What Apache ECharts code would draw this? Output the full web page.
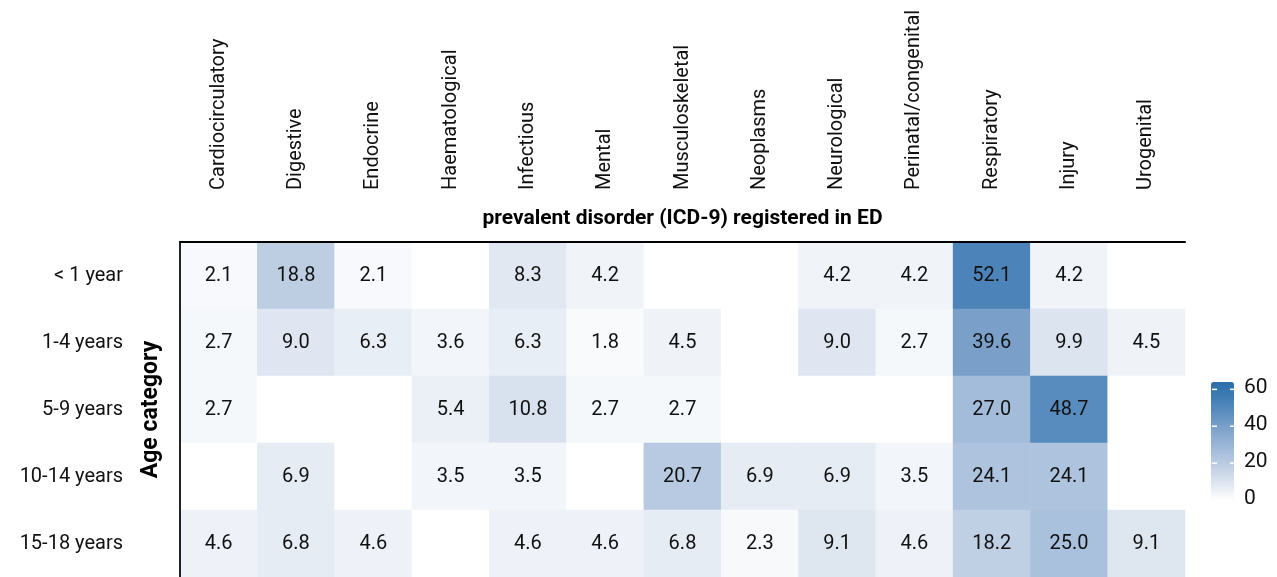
<!DOCTYPE html>
<html>
<head>
<meta charset="utf-8">
<title>Prevalent disorder by age category</title>
<script src="https://cdn.jsdelivr.net/npm/echarts@6/dist/echarts.min.js"></script>
<style>
    html, body { margin: 0; padding: 0; background: #fff; }
    #main { width: 1277px; height: 577px; }
</style>
</head>
<body>
<div id="main"></div>
<script>
    // categories
    var disorders = ['Cardiocirculatory', 'Digestive', 'Endocrine', 'Haematological', 'Infectious', 'Mental',
        'Musculoskeletal', 'Neoplasms', 'Neurological', 'Perinatal/congenital', 'Respiratory', 'Injury', 'Urogenital'];
    var ages = ['< 1 year', '1-4 years', '5-9 years', '10-14 years', '15-18 years'];

    // percentages per age row (0 = empty cell)
    var rowUnder1 = [2.1, 18.8, 2.1, 0, 8.3, 4.2, 0, 0, 4.2, 4.2, 52.1, 4.2, 0];
    var row1to4 = [2.7, 9.0, 6.3, 3.6, 6.3, 1.8, 4.5, 0, 9.0, 2.7, 39.6, 9.9, 4.5];
    var row5to9 = [2.7, 0, 0, 5.4, 10.8, 2.7, 2.7, 0, 0, 0, 27.0, 48.7, 0];
    var row10to14 = [0, 6.9, 0, 3.5, 3.5, 0, 20.7, 6.9, 6.9, 3.5, 24.1, 24.1, 0];
    var row15to18 = [4.6, 6.8, 4.6, 0, 4.6, 4.6, 6.8, 2.3, 9.1, 4.6, 18.2, 25.0, 9.1];

    var legendTicks = [60, 40, 20, 0];

    var rows = [rowUnder1, row1to4, row5to9, row10to14, row15to18];
    var cells = [];
    rows.forEach(function (row, yi) {
        row.forEach(function (v, xi) {
            cells.push([xi, yi, v]);
        });
    });

    var font = "Roboto, 'Liberation Sans', sans-serif";

    // colour bar placement (visualMap adds its own offset of ~16/15 px)
    var barLeft = 1212, barTop = 382, barW = 23, barH = 118, vMax = 64;
    var legendGraphics = [];
    legendTicks.forEach(function (t) {
        var y = barTop + barH * (1 - t / vMax);
        legendGraphics.push({
            type: 'text', left: barLeft + barW + 9, top: y - 12,
            style: { text: String(t), font: '21px ' + font, fill: '#111' }
        });
        if (t > 0) {
            legendGraphics.push({ type: 'line', shape: { x1: barLeft, y1: y, x2: barLeft + 5, y2: y },
                style: { stroke: '#fff', lineWidth: 1.5 }, z: 100 });
            legendGraphics.push({ type: 'line', shape: { x1: barLeft + barW - 5, y1: y, x2: barLeft + barW, y2: y },
                style: { stroke: '#fff', lineWidth: 1.5 }, z: 100 });
        }
    });

    var myChart = echarts.init(document.getElementById('main'));
    var option = {
        animation: false,
        backgroundColor: '#fff',
        textStyle: { fontFamily: font },
        grid: { left: 180, top: 242, right: 92, height: 340 },
        xAxis: {
            type: 'category',
            position: 'top',
            z: 5,
            data: disorders,
            name: 'prevalent disorder (ICD-9) registered in ED',
            nameLocation: 'middle',
            nameGap: 13,
            nameMoveOverlap: false,
            nameTextStyle: { fontSize: 21, fontWeight: 'bold', color: '#000', fontFamily: font },
            axisLine: { show: true, lineStyle: { color: '#000', width: 2 } },
            axisTick: { show: false },
            axisLabel: { rotate: -90, margin: 52, fontSize: 20, color: '#111', interval: 0 },
            splitLine: { show: false },
            splitArea: { show: false }
        },
        yAxis: {
            type: 'category',
            inverse: true,
            z: 5,
            data: ages,
            name: 'Age category',
            nameLocation: 'middle',
            nameGap: 17,
            nameRotate: 90,
            nameMoveOverlap: false,
            nameTextStyle: { fontSize: 23, fontWeight: 'bold', color: '#000', fontFamily: font },
            axisLine: { show: true, lineStyle: { color: '#222', width: 2 } },
            axisTick: { show: false },
            axisLabel: { margin: 57, fontSize: 20, color: '#111' },
            splitLine: { show: false }
        },
        visualMap: {
            type: 'continuous',
            min: 0,
            max: vMax,
            calculable: false,
            orient: 'vertical',
            left: barLeft - 16,
            top: barTop - 15,
            itemWidth: barW,
            itemHeight: barH,
            text: null,
            showLabel: false,
            inRange: {
                color: ['#ffffff', '#e2e9f2', '#c6d4e6', '#adc3de', '#93b1d4', '#799fc9', '#5a8dbf', '#3f7cb4', '#2c6ea9']
            }
        },
        graphic: legendGraphics,
        series: [{
            type: 'heatmap',
            data: cells,
            itemStyle: { borderWidth: 0 },
            emphasis: { disabled: true },
            label: {
                show: true,
                fontSize: 20,
                color: '#111',
                fontFamily: font,
                formatter: function (p) {
                    return p.value[2] > 0 ? p.value[2].toFixed(1) : '';
                }
            }
        }]
    };
    myChart.setOption(option);
</script>
</body>
</html>
